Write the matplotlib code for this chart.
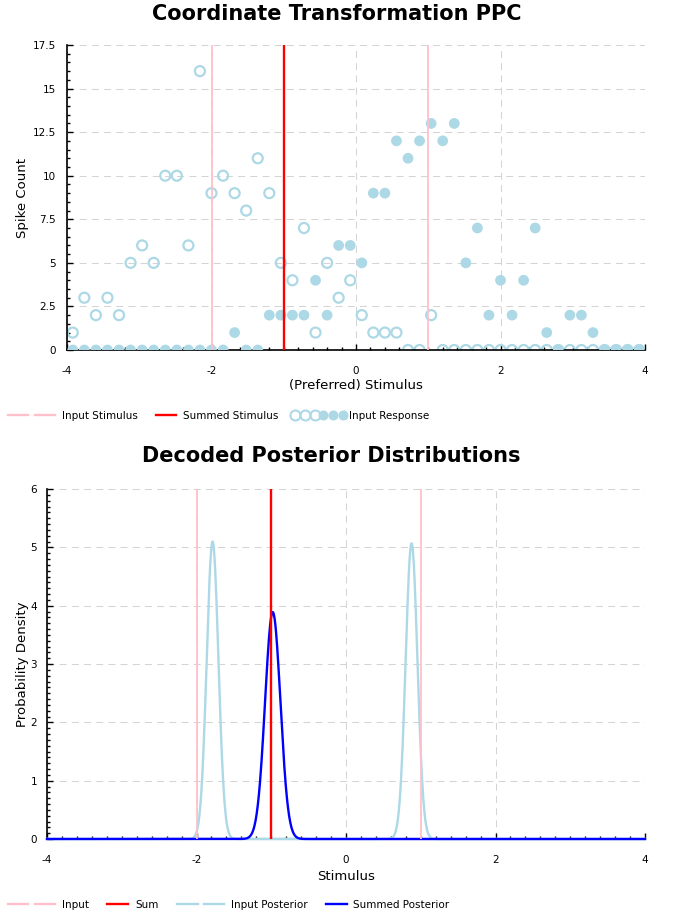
import matplotlib
matplotlib.use("Agg")
import matplotlib.pyplot as plt
import numpy as np
from matplotlib.lines import Line2D
from matplotlib.legend_handler import HandlerTuple
from matplotlib.ticker import MultipleLocator, FuncFormatter

W, H, DPI = 676, 919, 100
plt.rcParams["font.family"] = "DejaVu Sans"
plt.rcParams["axes.unicode_minus"] = False

# Data: preferred stimuli of the 50 neurons and their spike counts
preferred = np.linspace(-3.92, 3.92, 50)
response_open = [1, 3, 2, 3, 2, 5, 6, 5, 10, 10, 6, 16, 9, 10, 9, 8, 11, 9, 5, 4,
                 7, 1, 5, 3, 4, 2, 1, 1, 1, 0, 0, 2, 0, 0, 0, 0, 0, 0, 0, 0,
                 0, 0, 0, 0, 0, 0, 0, 0, 0, 0]
response_filled = [0, 0, 0, 0, 0, 0, 0, 0, 0, 0, 0, 0, 0, 0, 1, 0, 0, 2, 2, 2,
                   2, 4, 2, 6, 6, 5, 9, 9, 12, 11, 12, 13, 12, 13, 5, 7, 2, 4, 2, 4,
                   7, 1, 0, 2, 2, 1, 0, 0, 0, 0]
input_stimuli = [-2, 1]
summed_stimulus = -1

# Decoded posteriors (means and peak densities)
post_x = np.linspace(-4, 4, 1601)
input_post_means = [-1.785, 0.877]
input_post_peaks = [5.10, 5.07]
summed_post_mean = -0.98
summed_post_peak = 3.89

PINK = "#FFC0CB"
LBLUE = "#ADD8E6"


def gauss(x, mu, peak):
    sd = 1 / (peak * np.sqrt(2 * np.pi))
    return peak * np.exp(-0.5 * ((x - mu) / sd) ** 2)


fig = plt.figure(figsize=(W / DPI, H / DPI), dpi=DPI)
ax1 = fig.add_axes([67 / W, 1 - 350 / H, 578 / W, 305 / H])
ax2 = fig.add_axes([47 / W, 1 - 839 / H, 598 / W, 350 / H])

fmt = FuncFormatter(lambda v, p: f"{v:g}")


def style(ax, ymajor, yminor, ypad, xpad):
    for s in ["top", "right"]:
        ax.spines[s].set_visible(False)
    for s in ["left", "bottom"]:
        ax.spines[s].set_linewidth(1.2)
    ax.grid(True, color="#d4d4d4", lw=0.75, ls=(0, (6.7, 5)))
    ax.set_axisbelow(True)
    ax.xaxis.set_major_locator(MultipleLocator(2))
    ax.xaxis.set_minor_locator(MultipleLocator(0.2))
    ax.yaxis.set_major_locator(MultipleLocator(ymajor))
    ax.yaxis.set_minor_locator(MultipleLocator(yminor))
    ax.xaxis.set_major_formatter(fmt)
    ax.yaxis.set_major_formatter(fmt)
    ax.tick_params(which="both", direction="in", labelsize=7.5, width=1)
    ax.tick_params(which="major", length=4)
    ax.tick_params(which="minor", length=2)
    ax.tick_params(axis="y", pad=ypad)
    ax.tick_params(axis="x", pad=xpad)


# Top panel
ax1.scatter(preferred, response_open, s=52, facecolors="none", edgecolors=LBLUE,
            linewidths=1.6, zorder=2.5)
ax1.scatter(preferred, response_filled, s=60, color=LBLUE, edgecolors="none", zorder=2.6)
for s in input_stimuli:
    ax1.axvline(s, color=PINK, lw=1.3, zorder=3)
ax1.axvline(summed_stimulus, color="red", lw=1.7, zorder=3)
ax1.set_xlim(-4, 4)
ax1.set_ylim(0, 17.5)
style(ax1, 2.5, 0.5, 8, 11.5)
ax1.set_xlabel("(Preferred) Stimulus", fontsize=9.5)
ax1.set_ylabel("Spike Count", fontsize=9.5)
ax1.xaxis.set_label_coords(0.5, -0.095)
ax1.yaxis.set_label_coords(-0.066, 0.5)

# Bottom panel
for mu, pk in zip(input_post_means, input_post_peaks):
    ax2.plot(post_x, gauss(post_x, mu, pk), color=LBLUE, lw=1.7, zorder=3, clip_on=False)
ax2.plot(post_x, gauss(post_x, summed_post_mean, summed_post_peak), color="blue",
         lw=1.7, zorder=3.1, clip_on=False)
for s in input_stimuli:
    ax2.axvline(s, color=PINK, lw=1.3, zorder=4)
ax2.axvline(summed_stimulus, color="red", lw=1.7, zorder=4)
ax2.set_xlim(-4, 4)
ax2.set_ylim(0, 6)
style(ax2, 1, 0.1, 7, 11.5)
ax2.set_xlabel("Stimulus", fontsize=9.5)
ax2.set_ylabel("Probability Density", fontsize=9.5)
ax2.xaxis.set_label_coords(0.5, -0.089)
ax2.yaxis.set_label_coords(-0.030, 0.5)

fig.text(337 / W, 1 - 14 / H, "Coordinate Transformation PPC", ha="center", va="center",
         fontsize=15, fontweight="bold")
fig.text(331 / W, 1 - 456 / H, "Decoded Posterior Distributions", ha="center", va="center",
         fontsize=15, fontweight="bold")

# Legends, one entry each so handles can have their own widths
LFS = 7.5
fs_px = LFS * DPI / 72


def entry(handle, label, x0, width_px, text_x, y, pad_px=0, npts=1):
    fig.legend([handle], [label], loc="center left",
               bbox_to_anchor=(x0 / W, 1 - y / H), frameon=False, borderpad=0,
               borderaxespad=0, handlelength=width_px / fs_px,
               handletextpad=(text_x - x0 - width_px) / fs_px, fontsize=LFS,
               numpoints=npts,
               handler_map={tuple: HandlerTuple(ndivide=None, pad=pad_px / fs_px)})


def seg(c, lw=1.7):
    return Line2D([], [], color=c, lw=lw)


open_h = Line2D([], [], ls="none", marker="o", ms=7.2, mfc="none", mec=LBLUE, mew=1.5)
fill_h = Line2D([], [], ls="none", marker="o", ms=7.2, mfc=LBLUE, mec="none")

entry((seg(PINK), seg(PINK)), "Input Stimulus", 8, 47, 62, 416, pad_px=7)
entry(seg("red"), "Summed Stimulus", 156, 20, 183, 416)
entry((open_h, fill_h), "Input Response", 292, 54, 349, 416, pad_px=1.8, npts=3)

entry((seg(PINK), seg(PINK)), "Input", 8, 47, 62, 905, pad_px=7)
entry(seg("red"), "Sum", 107, 21, 135, 905)
entry((seg(LBLUE), seg(LBLUE)), "Input Posterior", 177, 47, 231, 905, pad_px=6)
entry(seg("blue"), "Summed Posterior", 326, 21, 353, 905)

fig.savefig("out.png", dpi=DPI)
